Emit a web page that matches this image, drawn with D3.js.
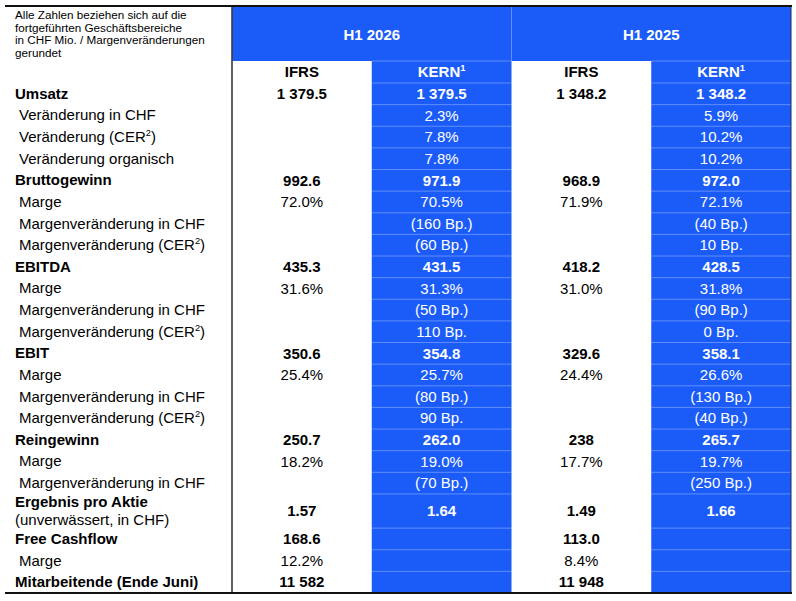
<!DOCTYPE html>
<html>
<head>
<meta charset="utf-8">
<script src="https://cdn.jsdelivr.net/npm/d3@7"></script>
<style>
  body { margin: 0; background: #fff; }
  svg { display: block; font-family: 'Liberation Sans', Arial, sans-serif; }
</style>
</head>
<body>
<svg width="796" height="601"></svg>
<script>
const svg = d3.select('svg');
const BLUE = '#1b5cf8';
const GRID = 'rgba(255,255,255,0.3)';
const T = { LEFT: 5, RIGHT: 791, TOP: 6, HEAD: 61, SUB: 83, BOTTOM: 593, LABELS: 232 };

// data
const note = [
  'Alle Zahlen beziehen sich auf die',
  'fortgeführten Geschäftsbereiche',
  'in CHF Mio. / Margenveränderungen',
  'gerundet',
];
const periods = ['H1 2026', 'H1 2025'];
const bases = ['IFRS', 'KERN¹'];
const rowLabels = [
  'Umsatz',
  'Veränderung in CHF',
  'Veränderung (CER²)',
  'Veränderung organisch',
  'Bruttogewinn',
  'Marge',
  'Margenveränderung in CHF',
  'Margenveränderung (CER²)',
  'EBITDA',
  'Marge',
  'Margenveränderung in CHF',
  'Margenveränderung (CER²)',
  'EBIT',
  'Marge',
  'Margenveränderung in CHF',
  'Margenveränderung (CER²)',
  'Reingewinn',
  'Marge',
  'Margenveränderung in CHF',
  'Ergebnis pro Aktie\n(unverwässert, in CHF)',
  'Free Cashflow',
  'Marge',
  'Mitarbeitende (Ende Juni)',
];
const headlineRows = [0, 4, 8, 12, 16, 19, 20, 22];
const ifrs2026 = ['1 379.5', '', '', '', '992.6', '72.0%', '', '', '435.3', '31.6%', '', '', '350.6', '25.4%', '', '', '250.7', '18.2%', '', '1.57', '168.6', '12.2%', '11 582'];
const kern2026 = ['1 379.5', '2.3%', '7.8%', '7.8%', '971.9', '70.5%', '(160 Bp.)', '(60 Bp.)', '431.5', '31.3%', '(50 Bp.)', '110 Bp.', '354.8', '25.7%', '(80 Bp.)', '90 Bp.', '262.0', '19.0%', '(70 Bp.)', '1.64', '', '', ''];
const ifrs2025 = ['1 348.2', '', '', '', '968.9', '71.9%', '', '', '418.2', '31.0%', '', '', '329.6', '24.4%', '', '', '238', '17.7%', '', '1.49', '113.0', '8.4%', '11 948'];
const kern2025 = ['1 348.2', '5.9%', '10.2%', '10.2%', '972.0', '72.1%', '(40 Bp.)', '10 Bp.', '428.5', '31.8%', '(90 Bp.)', '0 Bp.', '358.1', '26.6%', '(130 Bp.)', '(40 Bp.)', '265.7', '19.7%', '(250 Bp.)', '1.66', '', '', ''];

const columns = [
  { key: 'ifrs2026', period: periods[0], base: bases[0], values: ifrs2026 },
  { key: 'kern2026', period: periods[0], base: bases[1], values: kern2026 },
  { key: 'ifrs2025', period: periods[1], base: bases[0], values: ifrs2025 },
  { key: 'kern2025', period: periods[1], base: bases[1], values: kern2025 },
];
const isKern = c => c.base === bases[1];

// superscript digits get their own smaller, raised tspan
const SUP = { '¹': '1', '²': '2' };
function richText(sel, str) {
  str.split(/([¹²])/).filter(s => s !== '').forEach(part => {
    if (SUP[part]) {
      sel.append('tspan')
        .attr('font-size', '0.62em')
        .attr('baseline-shift', '70%')
        .text(SUP[part]);
    } else {
      sel.append('tspan').text(part);
    }
  });
}

// scales
const xPeriod = d3.scaleBand().domain(periods).range([T.LABELS, T.RIGHT]);
const x = d3.scaleBand().domain(columns.map(c => c.key)).range([T.LABELS, T.RIGHT]);

// rows with two label lines are taller
const units = rowLabels.map(l => (l.includes('\n') ? 1.58 : 1));
const starts = units.map((u, i) => d3.sum(units.slice(0, i)));
const y = d3.scaleLinear().domain([0, d3.sum(units)]).range([T.SUB, T.BOTTOM]);
const rows = rowLabels.map((label, i) => ({
  i,
  label,
  bold: headlineRows.includes(i),
  y0: y(starts[i]),
  y1: y(starts[i] + units[i]),
}));

// header block
svg.append('rect')
  .attr('x', T.LABELS).attr('y', T.TOP)
  .attr('width', T.RIGHT - T.LABELS).attr('height', T.HEAD - T.TOP)
  .attr('fill', BLUE);

// KERN column backgrounds
svg.selectAll('rect.kern')
  .data(columns.filter(isKern))
  .join('rect')
  .attr('class', 'kern')
  .attr('x', d => x(d.key)).attr('y', T.HEAD)
  .attr('width', x.bandwidth()).attr('height', T.BOTTOM - T.HEAD)
  .attr('fill', BLUE);

// grid inside blue columns
const gridYs = [T.HEAD, T.SUB].concat(rows.slice(0, -1).map(r => r.y1));
columns.filter(isKern).forEach(c => {
  svg.append('g').selectAll('line')
    .data(gridYs)
    .join('line')
    .attr('x1', x(c.key)).attr('x2', x(c.key) + x.bandwidth())
    .attr('y1', d => d).attr('y2', d => d)
    .attr('stroke', GRID).attr('stroke-width', 1);
});
svg.append('line')
  .attr('x1', xPeriod(periods[1])).attr('x2', xPeriod(periods[1]))
  .attr('y1', T.TOP).attr('y2', T.HEAD)
  .attr('stroke', GRID);

// period headers
svg.selectAll('text.period')
  .data(periods)
  .join('text')
  .attr('class', 'period')
  .attr('x', d => xPeriod(d) + xPeriod.bandwidth() / 2)
  .attr('y', (T.TOP + T.HEAD) / 2 + 1)
  .attr('dy', '0.35em')
  .attr('text-anchor', 'middle')
  .attr('font-size', 15).attr('font-weight', 'bold')
  .attr('fill', '#fff')
  .text(d => d);

// base headers
columns.forEach(c => {
  const t = svg.append('text')
    .attr('x', x(c.key) + x.bandwidth() / 2)
    .attr('y', (T.HEAD + T.SUB) / 2 + 5)
    .attr('text-anchor', 'middle')
    .attr('font-size', 15).attr('font-weight', 'bold')
    .attr('fill', isKern(c) ? '#fff' : '#000');
  richText(t, c.base);
});

// note
svg.append('g')
  .selectAll('text')
  .data(note)
  .join('text')
  .attr('x', 15)
  .attr('y', (d, i) => 19 + i * 12.5)
  .attr('font-size', 11.7)
  .attr('fill', '#000')
  .text(d => d);

// row labels
rows.forEach(r => {
  const lines = r.label.split('\n');
  const cy = (r.y0 + r.y1) / 2;
  lines.forEach((line, k) => {
    const t = svg.append('text')
      .attr('x', r.bold ? 15 : 19)
      .attr('y', cy + (k - (lines.length - 1) / 2) * 18 + 5)
      .attr('font-size', 15)
      .attr('font-weight', r.bold && k === 0 ? 'bold' : 'normal')
      .attr('fill', '#000');
    richText(t, line);
  });
});

// values
columns.forEach(c => {
  svg.append('g')
    .selectAll('text')
    .data(rows.filter(r => c.values[r.i] !== ''))
    .join('text')
    .attr('x', x(c.key) + x.bandwidth() / 2)
    .attr('y', r => (r.y0 + r.y1) / 2)
    .attr('dy', '0.35em')
    .attr('text-anchor', 'middle')
    .attr('font-size', 15)
    .attr('font-weight', r => (r.bold ? 'bold' : 'normal'))
    .attr('fill', isKern(c) ? '#fff' : '#000')
    .text(r => c.values[r.i]);
});

// rules
svg.append('line')
  .attr('x1', T.LABELS).attr('x2', T.LABELS)
  .attr('y1', T.TOP).attr('y2', T.BOTTOM)
  .attr('stroke', '#3a3a3a').attr('stroke-width', 1.6);
svg.append('line')
  .attr('x1', T.RIGHT).attr('x2', T.RIGHT)
  .attr('y1', T.TOP).attr('y2', T.BOTTOM)
  .attr('stroke', '#1a2a60').attr('stroke-width', 1);
[T.TOP, T.BOTTOM].forEach(yy => {
  svg.append('line')
    .attr('x1', T.LEFT).attr('x2', T.RIGHT + 1)
    .attr('y1', yy).attr('y2', yy)
    .attr('stroke', '#111').attr('stroke-width', 2);
});
</script>
</body>
</html>
